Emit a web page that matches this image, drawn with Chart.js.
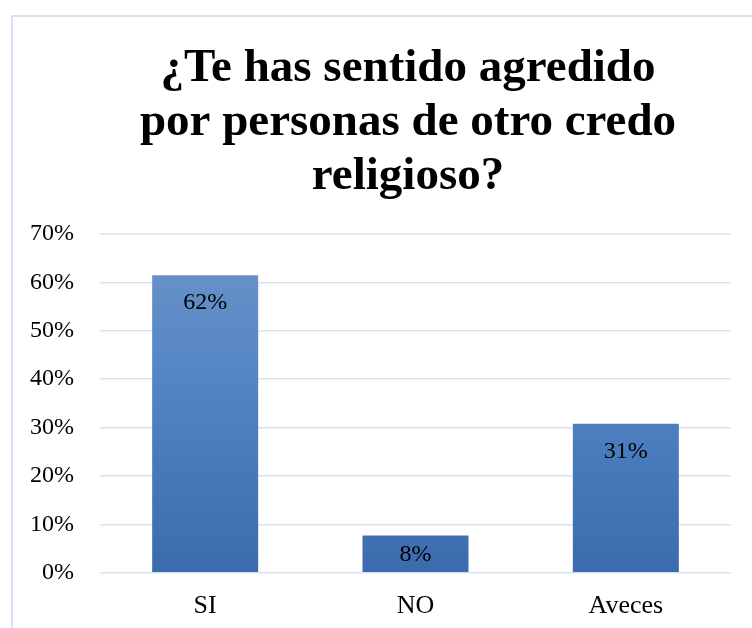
<!DOCTYPE html>
<html>
<head>
<meta charset="utf-8">
<script src="https://cdn.jsdelivr.net/npm/chart.js@4"></script>
<style>
  body { margin: 0; width: 752px; height: 628px; overflow: hidden; background: #fff; }
  .frame { position: absolute; left: 11px; top: 15px; width: 796px; height: 640px;
           border: 2px solid #d6e2f3; box-sizing: border-box; }
  canvas { display: block; }
</style>
</head>
<body>
<div class="frame"><canvas id="chart" width="792" height="636"></canvas></div>
<script>
const categories = ['SI', 'NO', 'Aveces'];
const values = [61.5, 7.7, 30.8];
const titleLines = ['¿Te has sentido agredido', 'por personas de otro credo', 'religioso?'];

const serif = '"Liberation Serif", "Times New Roman", serif';

// titulo centrado en el recuadro (no en el area del grafico)
const titleBlock = {
  id: 'titleBlock',
  afterDraw(chart) {
    const ctx = chart.ctx;
    ctx.save();
    ctx.font = 'bold 47px ' + serif;
    ctx.fillStyle = '#000';
    ctx.textAlign = 'center';
    ctx.textBaseline = 'middle';
    titleLines.forEach((t, i) => ctx.fillText(t, 395, 52 + i * 54));
    ctx.restore();
  }
};

// etiquetas dentro de la barra, en la parte superior
const barLabels = {
  id: 'barLabels',
  afterDatasetsDraw(chart) {
    const ctx = chart.ctx;
    const meta = chart.getDatasetMeta(0);
    ctx.save();
    ctx.font = '24px ' + serif;
    ctx.fillStyle = '#000';
    ctx.textAlign = 'center';
    ctx.textBaseline = 'middle';
    meta.data.forEach((bar, i) => {
      const y = Math.min(bar.y + 28, bar.base - 17);
      ctx.fillText(Math.round(values[i]) + '%', bar.x, y);
    });
    ctx.restore();
  }
};

new Chart(document.getElementById('chart'), {
  type: 'bar',
  data: {
    labels: categories,
    datasets: [{
      data: values,
      backgroundColor: (c) => {
        const a = c.chart.chartArea;
        if (!a) return '#4f81bd';
        const g = c.chart.ctx.createLinearGradient(0, a.top, 0, a.bottom);
        g.addColorStop(0, '#6d95ca');
        g.addColorStop(0.5, '#4f82c3');
        g.addColorStop(1, '#3b6bac');
        return g;
      },
      categoryPercentage: 1,
      barPercentage: 0.504
    }]
  },
  options: {
    responsive: false,
    animation: false,
    layout: { padding: { top: 217, right: 74, bottom: 21, left: 17 } },
    plugins: {
      legend: { display: false },
      tooltip: { enabled: false },
      title: { display: false }
    },
    scales: {
      x: {
        grid: { display: false },
        border: { display: false },
        ticks: { color: '#000', padding: 10, font: { family: serif, size: 26 } }
      },
      y: {
        min: 0,
        max: 70,
        border: { display: false },
        grid: { color: '#d9e3f1', lineWidth: 1.5, drawTicks: false },
        afterFit: s => { s.width = 70; },
        ticks: {
          stepSize: 10,
          color: '#000',
          padding: 26,
          font: { family: serif, size: 24 },
          callback: v => v + '%'
        }
      }
    }
  },
  plugins: [barLabels, titleBlock]
});
</script>
</body>
</html>
